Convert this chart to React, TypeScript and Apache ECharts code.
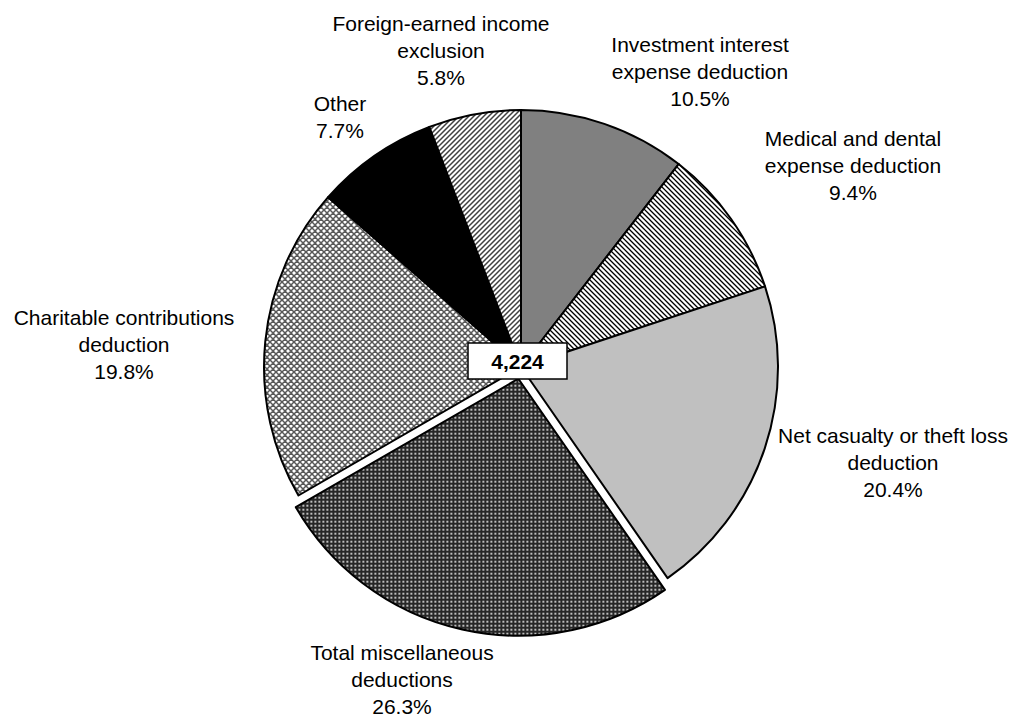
import React, { useEffect, useRef } from "react";
import * as echarts from "echarts";

// ---- data ----
const CATEGORIES = [
  "Investment interest\nexpense deduction",
  "Medical and dental\nexpense deduction",
  "Net casualty or theft loss\ndeduction",
  "Total miscellaneous\ndeductions",
  "Charitable contributions\ndeduction",
  "Other",
  "Foreign-earned income\nexclusion",
];
const SHARES = [10.5, 9.4, 20.4, 26.3, 19.8, 7.7, 5.8];
const EXPLODED_INDEX = 3;
const TOTAL_LABEL = "4,224";

// ---- layout (label block centres, in px) ----
const LABEL_POS: [number, number][] = [
  [700, 71],
  [853, 165.5],
  [893, 462.5],
  [402, 679],
  [124, 344.5],
  [340, 117],
  [441, 50],
];

const FONT = '"Liberation Sans", Arial, Helvetica, sans-serif';
const PIE_CENTER = [521, 367];
const PIE_RADIUS = 257;

function tile(w: number, h: number, draw: (ctx: CanvasRenderingContext2D) => void) {
  const c = document.createElement("canvas");
  c.width = w;
  c.height = h;
  const ctx = c.getContext("2d")!;
  draw(ctx);
  return { image: c.toDataURL(), repeat: "repeat", imageWidth: w, imageHeight: h };
}

function stripes(dir: "down" | "up", color: string, width: number) {
  return tile(10, 10, (ctx) => {
    ctx.fillStyle = "#fff";
    ctx.fillRect(0, 0, 10, 10);
    ctx.strokeStyle = color;
    ctx.lineWidth = width;
    ctx.beginPath();
    for (let k = -4; k <= 8; k++) {
      const c = 5 * k;
      if (dir === "down") {
        ctx.moveTo(-3, c - 3);
        ctx.lineTo(13, c + 13);
      } else {
        ctx.moveTo(-3, c + 3);
        ctx.lineTo(13, c - 13);
      }
    }
    ctx.stroke();
  });
}

function crosshatch() {
  return tile(6, 6, (ctx) => {
    ctx.fillStyle = "#fff";
    ctx.fillRect(0, 0, 6, 6);
    ctx.strokeStyle = "#585858";
    ctx.lineWidth = 1.5;
    ctx.beginPath();
    for (let k = -3; k <= 4; k++) {
      const c = 6 * k;
      ctx.moveTo(-3, c - 3);
      ctx.lineTo(9, c + 9);
      ctx.moveTo(-3, c + 3);
      ctx.lineTo(9, c - 9);
    }
    ctx.stroke();
  });
}

function darkDots() {
  return tile(4, 4, (ctx) => {
    ctx.fillStyle = "#262626";
    ctx.fillRect(0, 0, 4, 4);
    ctx.fillStyle = "#bdbdbd";
    ctx.fillRect(1, 1, 2, 2);
  });
}

export default function App() {
  const ref = useRef<HTMLDivElement>(null);

  useEffect(() => {
    document.body.style.margin = "0";
    const chart = echarts.init(ref.current!, null, { renderer: "svg" });

    const fills: any[] = [
      "#808080",
      stripes("down", "#000", 1.3),
      "#c0c0c0",
      darkDots(),
      crosshatch(),
      "#000000",
      stripes("up", "#404040", 1.5),
    ];

    const sliceData = CATEGORIES.map((name, i) => ({
      name,
      value: SHARES[i],
      selected: i === EXPLODED_INDEX,
      itemStyle: { color: fills[i], borderColor: "#000", borderWidth: 2 },
    }));

    const labelData = CATEGORIES.map((name, i) => ({ name, value: SHARES[i] }));

    chart.setOption({
      animation: false,
      backgroundColor: "#fff",
      series: [
        {
          type: "pie",
          center: PIE_CENTER,
          radius: PIE_RADIUS,
          startAngle: 90,
          clockwise: true,
          selectedMode: "single",
          selectedOffset: 12,
          silent: true,
          emphasis: { disabled: true },
          label: { show: false },
          labelLine: { show: false },
          data: sliceData,
        },
        {
          type: "pie",
          center: PIE_CENTER,
          radius: PIE_RADIUS,
          startAngle: 90,
          clockwise: true,
          avoidLabelOverlap: false,
          silent: true,
          z: 1,
          emphasis: { disabled: true },
          itemStyle: { color: "rgba(0,0,0,0)", borderWidth: 0 },
          label: {
            show: true,
            position: "outside",
            formatter: (p: any) => `${p.name}\n${Number(p.value).toFixed(1)}%`,
            fontFamily: FONT,
            fontSize: 21,
            lineHeight: 27,
            color: "#000",
            align: "center",
          },
          labelLine: { show: false },
          labelLayout: (params: any) => {
            const pos = LABEL_POS[params.dataIndex];
            return {
              x: pos[0],
              y: pos[1],
              align: "center",
              verticalAlign: "middle",
            };
          },
          data: labelData,
        },
      ],
      graphic: [
        {
          type: "group",
          z: 100,
          children: [
            {
              type: "rect",
              z: 100,
              shape: { x: 468, y: 343, width: 99, height: 36 },
              style: { fill: "#fff", stroke: "#000", lineWidth: 1.5 },
            },
            {
              type: "text",
              z: 101,
              x: 517.5,
              y: 361,
              style: {
                text: TOTAL_LABEL,
                font: `bold 21px ${FONT}`,
                fill: "#000",
                align: "center",
                verticalAlign: "middle",
              },
            },
          ],
        },
      ],
    });

    return () => chart.dispose();
  }, []);

  return <div ref={ref} style={{ width: 1013, height: 717 }} />;
}
